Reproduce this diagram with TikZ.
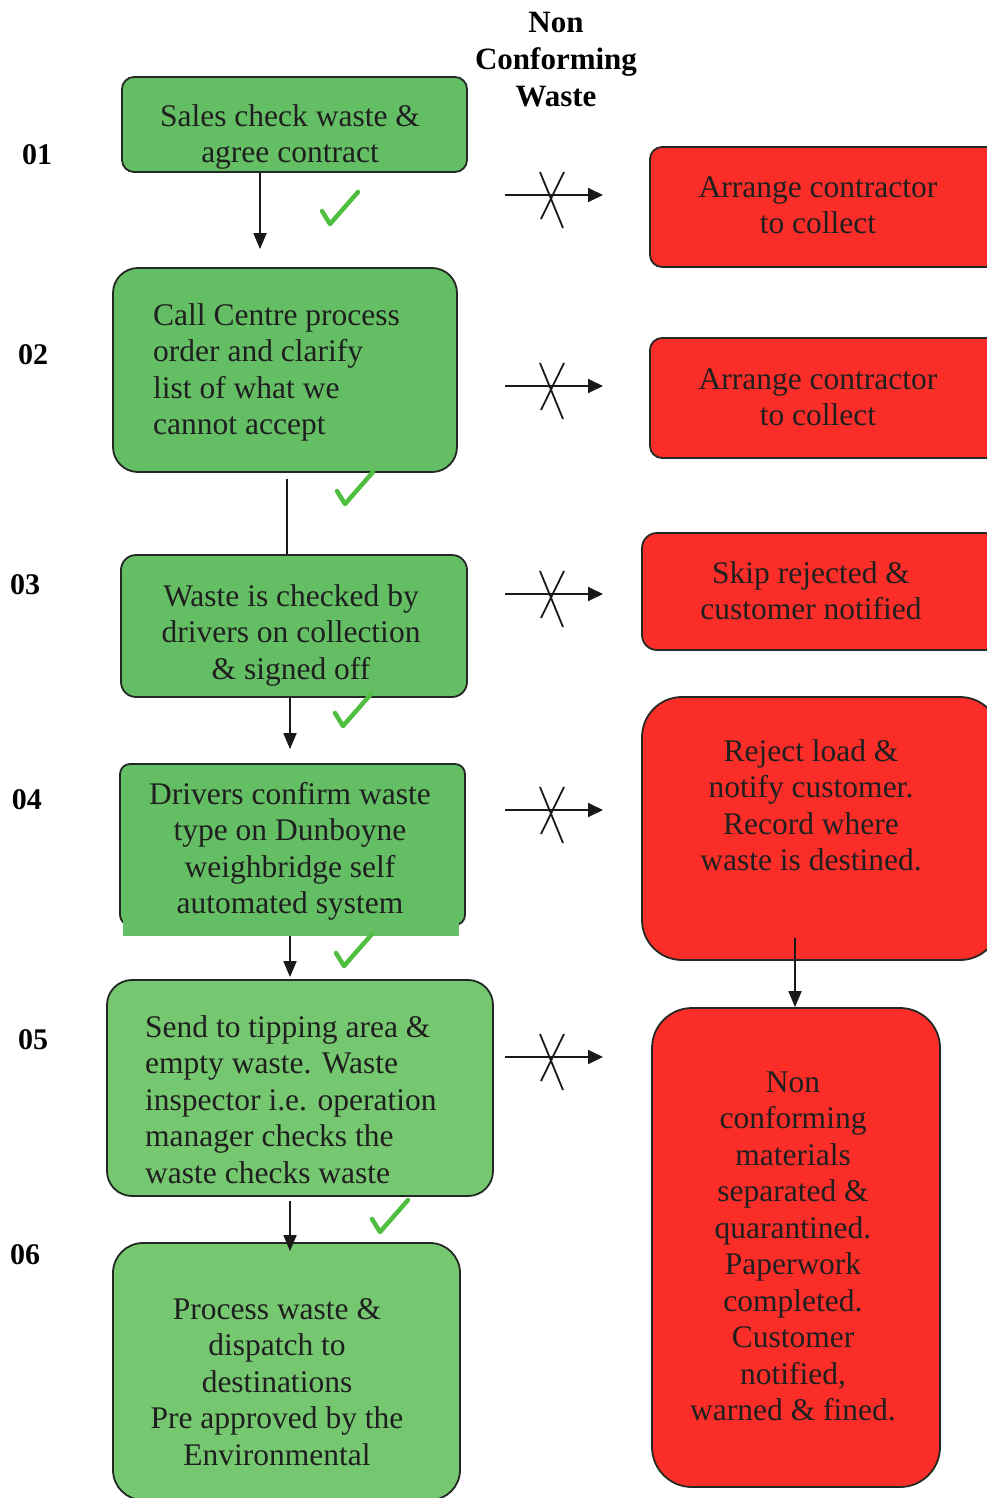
\documentclass[tikz,border=0pt]{standalone}
\usepackage{fontspec}
\setmainfont{Liberation Serif}
\usetikzlibrary{arrows.meta,calc}
\definecolor{gbox}{RGB}{100,190,100}
\definecolor{gboxb}{RGB}{118,200,112}
\definecolor{rbox}{RGB}{250,45,40}
\definecolor{tickc}{RGB}{80,190,65}
\definecolor{edgec}{RGB}{35,40,35}
\begin{document}
\begin{tikzpicture}[x=1pt,y=-1pt,
  box/.style={draw=edgec,line width=1.8pt,inner sep=0pt,rectangle},
  txt/.style={inner sep=0pt,font=\fontsize{31.5}{36.5}\selectfont,text=black!88},
  lbl/.style={inner sep=0pt,font=\fontsize{30}{37}\selectfont\bfseries},
  arr/.style={draw=black!90,line width=1.8pt,-{Triangle[length=16pt,width=13pt]}},
  plainline/.style={draw=black!90,line width=1.8pt},
  xline/.style={line width=1.8pt,draw=black!90},
  tickmark/.style={draw=tickc,line width=4.5pt,line cap=round,line join=round},
  nocross/.pic={\draw[xline] (-11,-23) -- (12,33) (13,-23) -- (-10,24);},
  okmark/.pic={\draw[tickmark] (-18,3) -- (-10,16) -- (18,-16);}
]
\useasboundingbox (0,0) rectangle (987,1498);

% header (anchor = baseline of last line)
\node[lbl,font=\fontsize{31}{37}\selectfont\bfseries,align=center,anchor=base] (hdr) at (556,107) {Non\\Conforming\\Waste};

% step labels
\node[lbl] (n1) at (37,155) {01};
\node[lbl] (n2) at (33,355) {02};
\node[lbl] (n3) at (25,585) {03};
\node[lbl] (n4) at (27,800) {04};
\node[lbl] (n5) at (33,1040) {05};
\node[lbl] (n6) at (25,1255) {06};

% green boxes
\node[box,fill=gbox,rounded corners=12pt,minimum width=345pt,minimum height=95pt] (b1) at (294.5,124.5) {};
\node[box,fill=gbox,rounded corners=25pt,minimum width=344pt,minimum height=204pt] (b2) at (285,370) {};
\node[box,fill=gbox,rounded corners=15pt,minimum width=346pt,minimum height=142pt] (b3) at (294,626) {};
\node[box,fill=gbox,rounded corners=10pt,minimum width=345pt,minimum height=161pt] (b4) at (292.5,844.5) {};
\node[fill=gbox,inner sep=0pt,minimum width=336pt,minimum height=36pt] (b4b) at (291,918) {};
\node[box,fill=gboxb,rounded corners=25pt,minimum width=386pt,minimum height=216pt] (b5) at (300,1088) {};
\node[box,fill=gboxb,rounded corners=30pt,minimum width=347pt,minimum height=257pt] (b6) at (286.5,1371.5) {};

% red boxes
\node[box,fill=rbox,rounded corners=12pt,minimum width=350pt,minimum height=120pt] (r1) at (825,207) {};
\node[box,fill=rbox,rounded corners=12pt,minimum width=350pt,minimum height=120pt] (r2) at (825,398) {};
\node[box,fill=rbox,rounded corners=15pt,minimum width=358pt,minimum height=117pt] (r3) at (821,591.5) {};
\node[box,fill=rbox,rounded corners=40pt,minimum width=358pt,minimum height=263pt] (r4) at (821,828.5) {};
\node[box,fill=rbox,rounded corners=40pt,minimum width=288pt,minimum height=479pt] (r5) at (796,1247.5) {};

% texts (anchor = baseline of last line)
\node[txt,align=center,anchor=base] (t1) at (290,163) {Sales check waste \&\\agree contract};
\node[txt,align=left,anchor=base west] (t2) at (153,434.5) {Call Centre process\\order and clarify\\list of what we\\cannot accept};
\node[txt,align=center,anchor=base] (t3) at (291,679) {Waste is checked by\\drivers on collection\\\& signed off};
\node[txt,align=center,anchor=base] (t4) at (290,913.5) {Drivers confirm waste\\type on Dunboyne\\weighbridge self\\automated system};
\node[txt,align=left,anchor=base west] (t5) at (145,1183) {Send to tipping area \&\\empty waste. Waste\\inspector i.e. operation\\manager checks the\\waste checks waste};
\node[txt,align=center,anchor=base] (t6) at (277,1465) {Process waste \&\\dispatch to\\destinations\\Pre approved by the\\Environmental};
\node[txt,align=center,anchor=base] (s1) at (818,233.5) {Arrange contractor\\to collect};
\node[txt,align=center,anchor=base] (s2) at (818,425.5) {Arrange contractor\\to collect};
\node[txt,align=center,anchor=base] (s3) at (811,619.5) {Skip rejected \&\\customer notified};
\node[txt,align=center,anchor=base] (s4) at (811,870.5) {Reject load \&\\notify customer.\\Record where\\waste is destined.};
\node[txt,align=center,anchor=base] (s5) at (793,1420.5) {Non\\conforming\\materials\\separated \&\\quarantined.\\Paperwork\\completed.\\Customer\\notified,\\warned \& fined.};

% vertical connectors
\coordinate (c12) at (260,0);
\coordinate (c23) at (287,0);
\coordinate (c3x) at (290,0);
\coordinate (cr) at (795,0);
\draw[arr,shorten >=18pt] (b1.south -| c12) -- (b2.north -| c12);
\draw[plainline,shorten <=6pt] (b2.south -| c23) -- (b3.north -| c23);
\draw[arr,shorten >=14pt] (b3.south -| c3x) -- (b4.north -| c3x);
\draw[arr,shorten >=2pt] (b4b.south -| c3x) -- (b5.north -| c3x);
\draw[arr,shorten <=4pt,shorten >=-9pt] (b5.south -| c3x) -- (b6.north -| c3x);
\draw[arr,shorten <=-23pt] (r4.south -| cr) -- (r5.north -| cr);

% non-conforming crossed arrows
\foreach \i/\yy in {1/195,2/386,3/594,4/810,5/1057}{
  \coordinate (xs\i) at (505,\yy);
  \coordinate (xe\i) at (603,\yy);
  \draw[arr,-{Triangle[length=15pt,width=14pt]}] (xs\i) -- (xe\i);
  \pic at (551,\yy) {nocross};
}

% ticks
\pic at (340,208) {okmark};
\pic at (355,488) {okmark};
\pic at (353,710) {okmark};
\pic at (354,950) {okmark};
\pic at (390,1216) {okmark};
\end{tikzpicture}
\end{document}
